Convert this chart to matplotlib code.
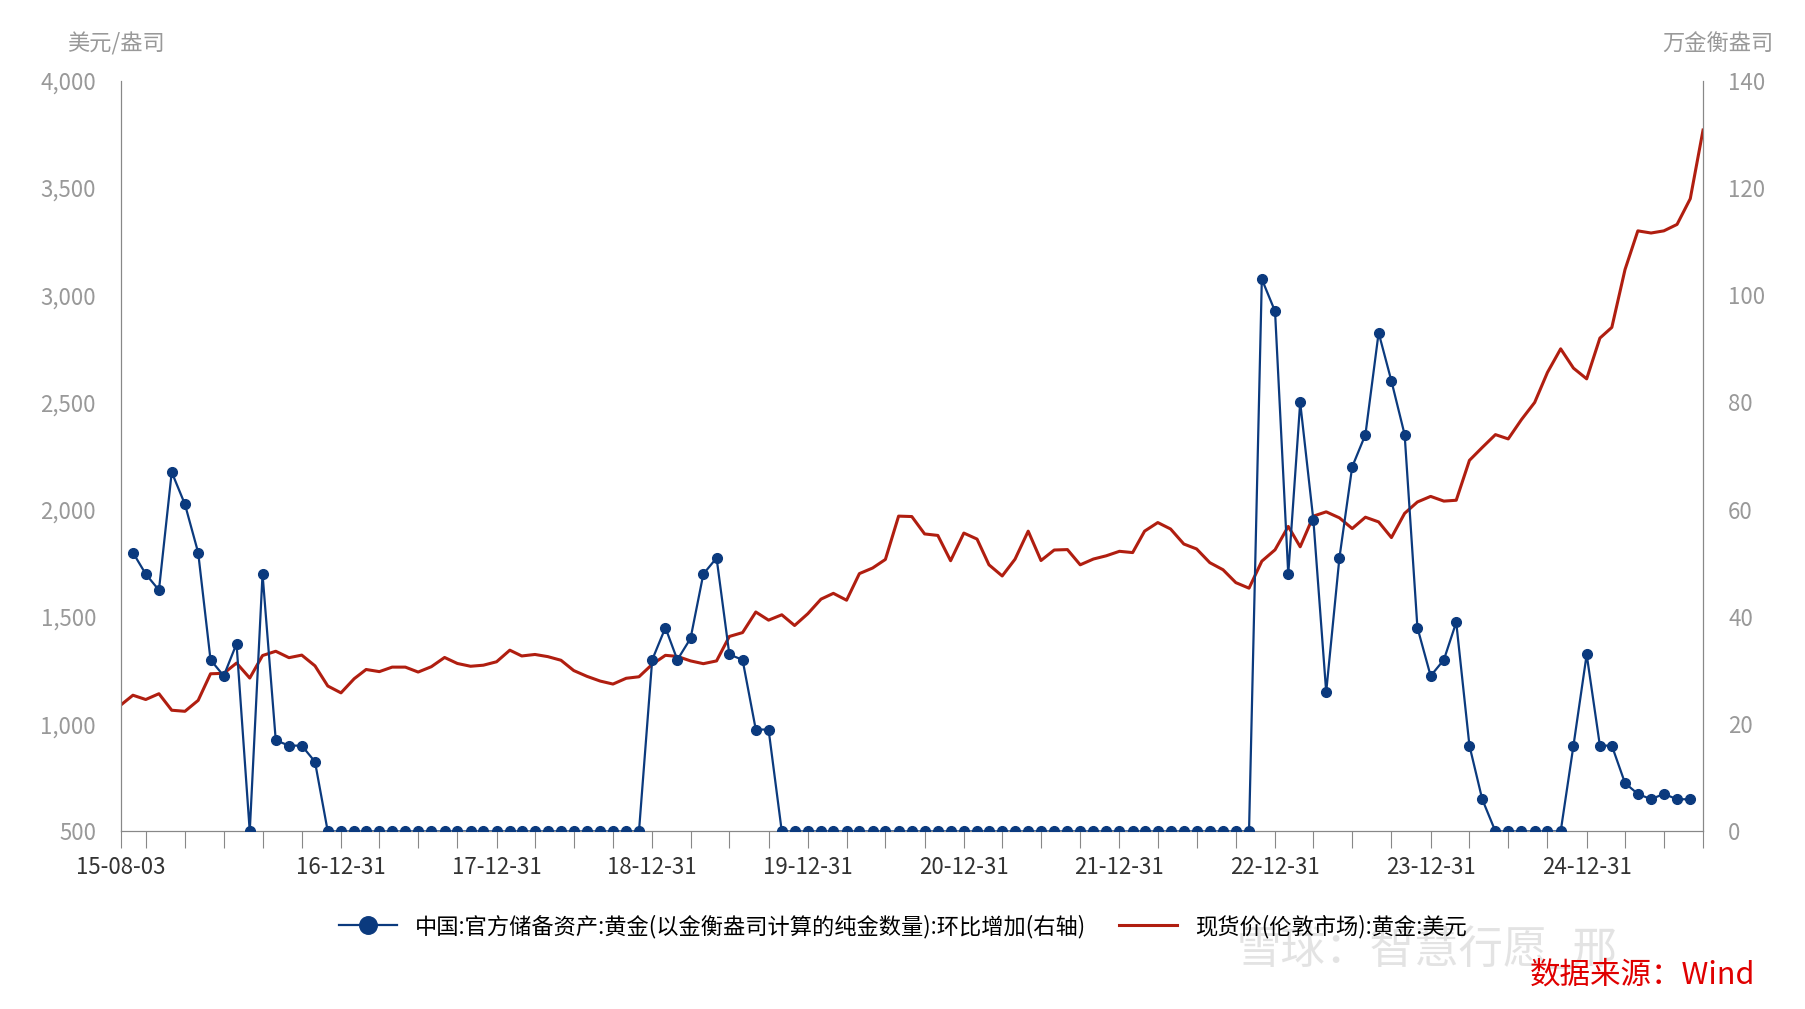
import matplotlib
matplotlib.use("Agg")
import matplotlib.pyplot as plt
import pandas as pd
import numpy as np

plt.rcParams['font.family'] = ['Noto Sans CJK SC', 'DejaVu Sans']

# PBoC monthly gold additions (万盎司), month-ends Aug 2015 .. Aug 2025
cb_start = "2015-08-31"
cb_values = [52, 48, 45, 67, 61, 52, 32, 29, 35, 0, 48, 17, 16, 16, 13] + [0]*25 + \
            [32, 38, 32, 36, 48, 51, 33, 32, 19, 19] + [0]*37 + \
            [103, 97, 48, 80, 58, 26, 51, 68, 74, 93, 84, 74, 38, 29, 32, 39, 16, 6] + [0]*6 + \
            [16, 33, 16, 16, 9, 7, 6, 7, 6, 6]

# London spot gold (USD/oz), approximate month-end values
gold_start = "2015-08-03"
gold_values = [1090,
    1135, 1115, 1142, 1065, 1060,
    1111, 1235, 1237, 1285, 1215, 1320, 1340, 1310, 1322, 1272, 1178, 1146,
    1212, 1255, 1245, 1266, 1266, 1243, 1268, 1311, 1283, 1270, 1275, 1291,
    1345, 1318, 1325, 1315, 1298, 1250, 1223, 1201, 1187, 1214, 1221, 1279,
    1321, 1316, 1295, 1282, 1295, 1409, 1427, 1523, 1485, 1510, 1460, 1515,
    1583, 1610, 1578, 1702, 1728, 1768, 1970, 1968, 1887, 1880, 1762, 1891,
    1863, 1743, 1691, 1769, 1900, 1763, 1812, 1814, 1743, 1770, 1785, 1806,
    1800, 1900, 1940, 1910, 1840, 1817, 1753, 1720, 1660, 1634, 1760, 1813,
    1922, 1827, 1970, 1990, 1962, 1912, 1965, 1943, 1870, 1983, 2036, 2062,
    2040, 2044, 2230, 2290, 2350, 2330, 2420, 2500, 2640, 2750, 2660, 2610,
    2800, 2850, 3120, 3300, 3290, 3300, 3330, 3450, 3770]

cb_dates = pd.date_range(cb_start, periods=len(cb_values), freq="ME")
gold_dates = [pd.Timestamp(gold_start)] + list(pd.date_range("2015-08-31", periods=len(gold_values)-1, freq="ME"))

navy = "#0B3A7E"
red = "#B01E10"
gray = "#999999"

fig = plt.figure(figsize=(18.06, 10.09), dpi=100)
ax = fig.add_axes([0.067, 0.176, 0.876, 0.744])
ax2 = ax.twinx()

l2, = ax.plot(gold_dates, gold_values, color=red, lw=2.2, zorder=2)
l1, = ax2.plot(cb_dates, cb_values, color=navy, lw=1.6, marker="o", ms=7, zorder=3)

ax.set_ylim(500, 4000)
ax.set_yticks(np.arange(500, 4001, 500))
ax.set_yticklabels([f"{v:,}" for v in range(500, 4001, 500)])
ax2.set_ylim(0, 140)
ax2.set_yticks(range(0, 141, 20))
ax.set_xlim(pd.Timestamp("2015-08-03"), pd.Timestamp("2025-09-30"))

qticks = [pd.Timestamp("2015-08-03")] + list(pd.date_range("2015-09-30", "2025-09-30", freq="QE"))
labels = []
for d in qticks:
    if d == qticks[0] or (d.month == 12 and d.year >= 2016):
        labels.append(d.strftime("%y-%m-%d"))
    else:
        labels.append("")
ax.set_xticks(qticks)
ax.set_xticklabels(labels)

for a in (ax, ax2):
    a.spines['top'].set_visible(False)
    for s in ('left', 'right', 'bottom'):
        a.spines[s].set_color("#888888")
ax.tick_params(axis='y', length=0, labelsize=16, labelcolor=gray, pad=18)
ax2.tick_params(axis='y', length=0, labelsize=16, labelcolor=gray, pad=18)
ax.tick_params(axis='x', length=12, color="#888888", labelsize=16, labelcolor="#333333", pad=6)

fig.text(0.037, 0.945, "美元/盎司", fontsize=16, color=gray, ha="left", va="bottom")
fig.text(0.982, 0.945, "万金衡盎司", fontsize=16, color=gray, ha="right", va="bottom")

fig.legend([l1, l2], ["中国:官方储备资产:黄金(以金衡盎司计算的纯金数量):环比增加(右轴)", "现货价(伦敦市场):黄金:美元"],
           loc="center", bbox_to_anchor=(0.5, 0.082), ncol=2, frameon=False, fontsize=16,
           handlelength=2.6, columnspacing=1.5, markerscale=1.8)

fig.text(0.685, 0.058, "雪球：智慧行愿_邢", fontsize=32, color="#dddddd", alpha=0.8, ha="left", va="center")
fig.text(0.972, 0.034, "数据来源：Wind", fontsize=22, color="#E00000", ha="right", va="center")

fig.savefig("out.png", dpi=100)
